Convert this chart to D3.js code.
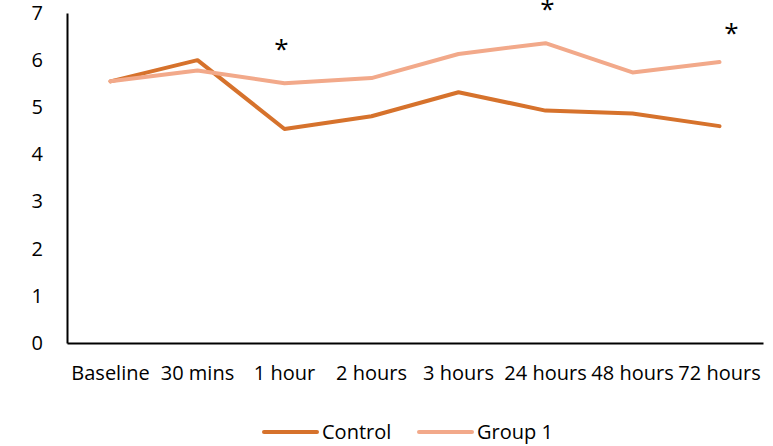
<!DOCTYPE html>
<html>
<head>
<meta charset="utf-8">
<script src="https://cdn.jsdelivr.net/npm/d3@7"></script>
<style>
  body { margin: 0; background: #fff; }
  svg text { font-family: 'Open Sans', 'Noto Sans', sans-serif; fill: #000; }
</style>
</head>
<body>
<svg id="viz"></svg>
<script>
var categories = ['Baseline', '30 mins', '1 hour', '2 hours', '3 hours', '24 hours', '48 hours', '72 hours'];
var control = [5.55, 6.0, 4.54, 4.81, 5.32, 4.93, 4.87, 4.6];
var group1 = [5.55, 5.78, 5.51, 5.62, 6.13, 6.36, 5.74, 5.96];
var starAt = ['1 hour', '24 hours', '72 hours'];
var starLevel = [6.34, 7.2, 6.68];
var yTicks = [0, 1, 2, 3, 4, 5, 6, 7];

var width = 773, height = 446;
var margin = { top: 13, right: 10, bottom: 103, left: 67 };

var svg = d3.select('#viz').attr('width', width).attr('height', height);
var g = svg.append('g').attr('transform', 'translate(' + margin.left + ',' + margin.top + ')');
var w = 696, h = 330;

var x = d3.scaleBand().domain(categories).range([0, w]);
var y = d3.scaleLinear().domain([0, 7]).range([h, 0]);

// y axis
var yAxis = g.append('g')
  .call(d3.axisLeft(y).tickValues(yTicks).tickFormat(d3.format('d')).tickSize(0).tickPadding(24));
yAxis.select('.domain').attr('stroke', '#000').attr('stroke-width', 2);
yAxis.selectAll('text').style('font-size', '20px');

// x axis
var xAxis = g.append('g')
  .attr('transform', 'translate(0,' + h + ')')
  .call(d3.axisBottom(x).tickSize(0).tickPadding(23));
xAxis.select('.domain').attr('stroke', '#000').attr('stroke-width', 2);
xAxis.selectAll('text').style('font-size', '20px');

var line = d3.line()
  .x(function (d, i) { return x(categories[i]) + x.bandwidth() / 2; })
  .y(function (d) { return y(d); });

var series = [
  { name: 'Control', values: control, color: '#D6722C' },
  { name: 'Group 1', values: group1, color: '#F2A98A' }
];

series.forEach(function (s) {
  g.append('path')
    .datum(s.values)
    .attr('d', line)
    .attr('fill', 'none')
    .attr('stroke', s.color)
    .attr('stroke-width', 4)
    .attr('stroke-linecap', 'round')
    .attr('stroke-linejoin', 'round');
});

// significance markers
starAt.forEach(function (c, i) {
  var dx = c === '72 hours' ? 12 : (c === '1 hour' ? -3 : 2);
  g.append('text')
    .attr('x', x(c) + x.bandwidth() / 2 + dx)
    .attr('y', y(starLevel[i]) + 14)
    .attr('text-anchor', 'middle')
    .style('font-size', '26px')
    .text('*');
});

// legend
var legend = svg.append('g').attr('transform', 'translate(264,432)');
series.forEach(function (s, i) {
  var lg = legend.append('g').attr('transform', 'translate(' + i * 155 + ',0)');
  lg.append('line')
    .attr('x1', 0).attr('x2', 53).attr('y1', 0).attr('y2', 0)
    .attr('stroke', s.color).attr('stroke-width', 4).attr('stroke-linecap', 'round');
  lg.append('text')
    .attr('x', 58).attr('y', 0).attr('dy', '0.35em')
    .style('font-size', '20px')
    .text(s.name);
});
</script>
</body>
</html>
